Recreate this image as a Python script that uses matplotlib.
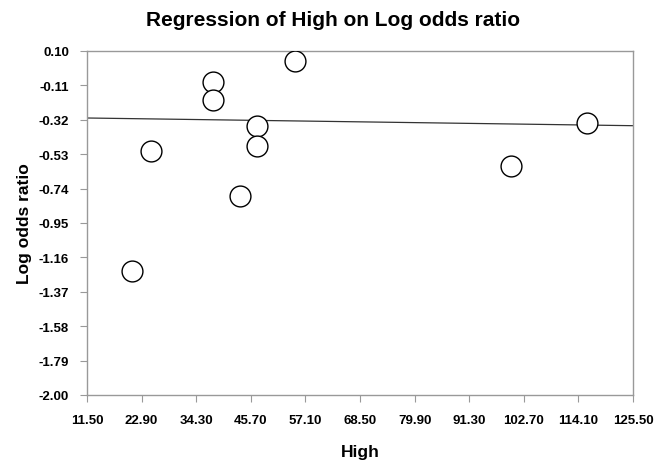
import numpy as np
import matplotlib
matplotlib.use("Agg")
import matplotlib.pyplot as plt
from matplotlib import font_manager

# dados
high = [20.8, 24.8, 37.9, 37.9, 43.5, 46.9, 46.9, 54.9, 100.0, 116.0]
log_or = [-1.245, -0.51, -0.091, -0.197, -0.787, -0.356, -0.478, 0.039, -0.602, -0.338]

# reta de regressão (extremos)
line_x = [11.5, 125.5]
line_y = [-0.309, -0.356]

xticks = [11.5 + 11.4 * i for i in range(11)]
yticks = [0.10 - 0.21 * i for i in range(11)]

names = {f.name for f in font_manager.fontManager.ttflist}
fam = "Liberation Sans Narrow" if "Liberation Sans Narrow" in names else "Liberation Sans"
plt.rcParams["font.family"] = [fam, "DejaVu Sans"]
plt.rcParams["font.weight"] = "bold"

fig = plt.figure(figsize=(6.66, 4.64), dpi=100)
ax = fig.add_axes([87 / 666, 1 - 396 / 464, 546 / 666, 344 / 464])

ax.plot(line_x, line_y, "-", color="#333333", lw=0.9, zorder=2)
ax.plot(high, log_or, "o", ms=15, mfc="white", mec="black", mew=1.0,
        linestyle="none", zorder=3)

ax.set_xlim(11.5, 125.5)
ax.set_ylim(-2.0, 0.10)
ax.set_xticks(xticks)
ax.set_yticks(yticks)
ax.set_xticklabels([f"{v:.2f}" for v in xticks], fontsize=9.5, fontweight="bold")
ax.set_yticklabels([f"{v:.2f}" for v in yticks], fontsize=9.5, fontweight="bold")
ax.tick_params(direction="out", length=5, width=0.8, color="#999999")
ax.tick_params(axis="x", pad=9)
ax.tick_params(axis="y", pad=8)

for s in ax.spines.values():
    s.set_color("#999999")
    s.set_linewidth(1.0)

ax.set_xlabel("High", fontsize=12.5, fontweight="bold", va="center")
ax.xaxis.set_label_coords(0.5, -(453 - 396) / 344)
ax.set_ylabel("Log odds ratio", fontsize=12.5, fontweight="bold", va="center")
ax.yaxis.set_label_coords(-(87 - 25) / 546, 0.5)
fig.text(0.5, 1 - 20 / 464, "Regression of High on Log odds ratio",
         ha="center", va="center", fontsize=15, fontweight="bold")

fig.savefig("out.png", dpi=100)
